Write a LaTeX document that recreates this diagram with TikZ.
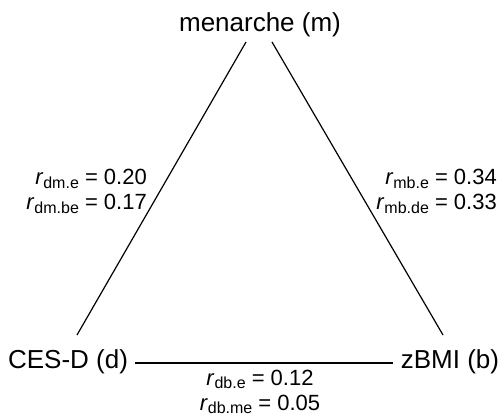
\documentclass[tikz,border=0pt]{standalone}
\usepackage{fontspec}
\setmainfont{Liberation Sans}
\usetikzlibrary{calc}
\newcommand\rlab[2]{\textit{r}\raisebox{-3.5pt}{\fontsize{16}{16}\selectfont #1} = #2}
\tikzset{
  var/.style={inner sep=0pt, font=\fontsize{26}{30}\selectfont},
  lab/.style={inner sep=0pt, font=\fontsize{22}{25}\selectfont},
  conn/.style={line width=1.2pt, black}
}
\begin{document}
\begin{tikzpicture}[x=1pt,y=1pt]
\useasboundingbox (0,0) rectangle (501,-417);
\node[var, anchor=base] (m) at (260,-32) {menarche (m)};
\node[var, anchor=base] (d) at (68,-368) {CES-D (d)};
\node[var, anchor=base] (b) at (450,-368) {zBMI (b)};
\draw[conn] ($(m.base)+(-14,-10)$) -- ($(d.base)+(9,33)$);
\draw[conn] ($(m.base)+(12,-10)$) -- ($(b.base)+(-7,33)$);
\draw[conn] ($(d.base)+(67,5)$) -- ($(b.base)+(-57,5)$);
\node[lab, anchor=base east] (l1) at (147,-185) {\rlab{dm.e}{0.20}};
\node[lab, anchor=base east] (l2) at (147,-210) {\rlab{dm.be}{0.17}};
\node[lab, anchor=base east] (r1) at (497,-185) {\rlab{mb.e}{0.34}};
\node[lab, anchor=base east] (r2) at (497,-210) {\rlab{mb.de}{0.33}};
\node[lab, anchor=base] (b1) at (260,-385) {\rlab{db.e}{0.12}};
\node[lab, anchor=base] (b2) at (260,-410) {\rlab{db.me}{0.05}};
\end{tikzpicture}
\end{document}
